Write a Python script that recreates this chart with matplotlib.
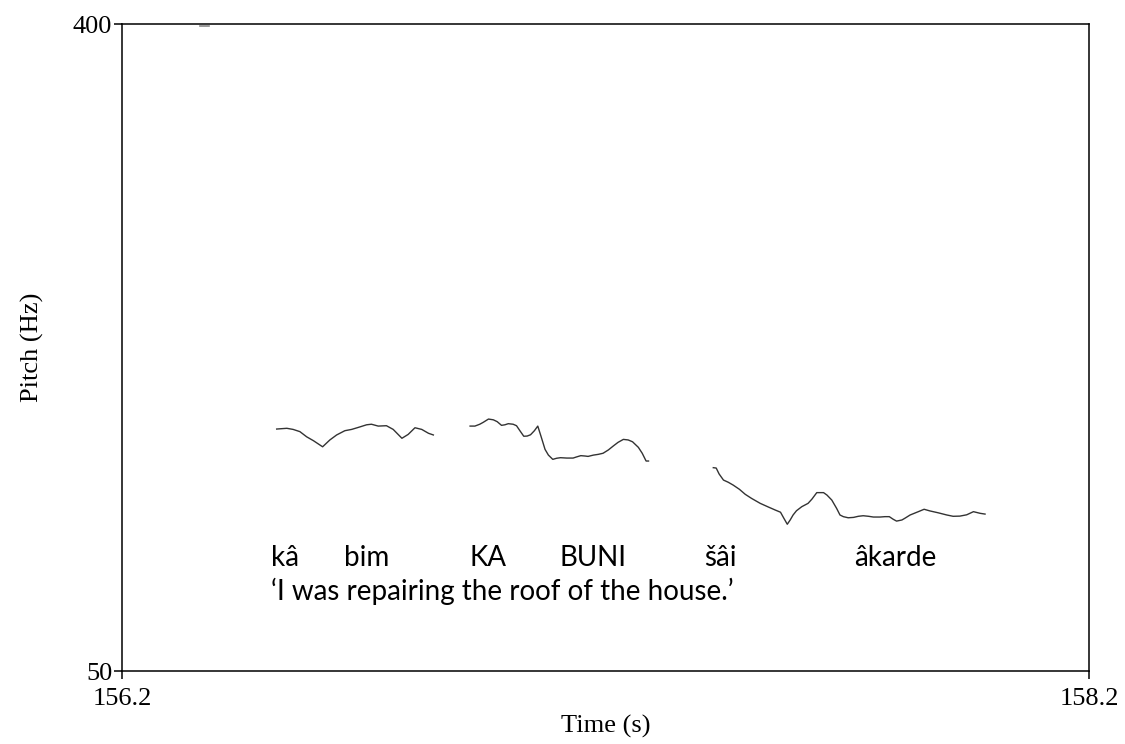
import matplotlib.pyplot as plt

# pitch track, three voiced stretches (time in s, f0 in Hz)
t1 = [156.520, 156.541, 156.554, 156.568, 156.582, 156.596, 156.615, 156.630,
      156.644, 156.661, 156.675, 156.689, 156.706, 156.716, 156.730, 156.747,
      156.761, 156.779, 156.792, 156.806, 156.820, 156.834, 156.844]
f1 = [180.9, 181.3, 180.7, 179.5, 176.7, 174.6, 171.3, 175.0,
      177.7, 180.0, 180.7, 181.8, 183.2, 183.5, 182.5, 182.7,
      180.7, 175.9, 178.0, 181.6, 180.7, 178.6, 177.7]

t2 = [156.920, 156.930, 156.940, 156.947, 156.958, 156.968, 156.976, 156.985,
      156.992, 156.999, 157.009, 157.016, 157.023, 157.031, 157.038, 157.045,
      157.053, 157.060, 157.067, 157.075, 157.082, 157.091, 157.099, 157.107,
      157.120, 157.133, 157.140, 157.149, 157.158, 157.164, 157.175, 157.185,
      157.195, 157.206, 157.216, 157.226, 157.237, 157.247, 157.256, 157.268,
      157.276, 157.284, 157.289]
f2 = [182.5, 182.5, 183.5, 184.5, 186.3, 185.9, 184.9, 182.9,
      183.2, 183.8, 183.5, 182.7, 180.0, 177.0, 177.1, 177.8,
      180.0, 182.5, 176.7, 169.9, 166.8, 164.5, 165.1, 165.4,
      165.2, 165.2, 165.8, 166.5, 166.3, 166.1, 166.8, 167.2,
      167.8, 169.6, 171.7, 173.7, 175.3, 175.0, 174.0, 171.0,
      167.8, 163.6, 163.6]

t3 = [157.423, 157.429, 157.435, 157.444, 157.454, 157.464, 157.477, 157.489,
      157.502, 157.520, 157.537, 157.551, 157.562, 157.569, 157.576, 157.582,
      157.588, 157.595, 157.606, 157.619, 157.627, 157.637, 157.651, 157.658,
      157.668, 157.678, 157.685, 157.692, 157.702, 157.713, 157.723, 157.733,
      157.744, 157.754, 157.768, 157.778, 157.787, 157.795, 157.802, 157.813,
      157.819, 157.830, 157.847, 157.859, 157.871, 157.888, 157.906, 157.919,
      157.933, 157.947, 157.961, 157.975, 157.985]
f3 = [160.0, 159.8, 156.6, 153.3, 152.1, 150.6, 148.3, 145.6,
      143.4, 140.7, 138.7, 137.1, 135.9, 132.6, 129.4, 131.7,
      134.4, 136.7, 138.9, 140.7, 143.0, 146.5, 146.5, 145.2,
      142.5, 138.0, 134.4, 133.5, 132.9, 133.1, 133.7, 134.0,
      133.7, 133.3, 133.3, 133.5, 133.5, 132.1, 131.1, 131.7,
      132.6, 134.4, 136.2, 137.5, 136.6, 135.6, 134.4, 133.7,
      133.8, 134.5, 136.2, 135.3, 134.9]

# stray octave-jump sample at the ceiling
t_stray = [156.362, 156.381]
f_stray = [399.0, 399.0]

words = ["kâ", "bim", "KA", "BUNI", "šâi", "âkarde"]
word_t = [156.508, 156.659, 156.918, 157.104, 157.404, 157.714]
gloss = "\u2018I was repairing the roof of the house.\u2019"

x_range = (156.2, 158.2)
y_range = (50, 400)

fig = plt.figure(figsize=(11.25, 7.44), dpi=100)
ax = fig.add_axes([0.1084, 0.0981, 0.8596, 0.8696])

line_kw = dict(color="#333333", linewidth=1.0)
for t, f in [(t1, f1), (t2, f2), (t3, f3)]:
    ax.plot(t, f, **line_kw)
ax.plot(t_stray, f_stray, color="#888888", linewidth=1.2)

ax.set_xlim(*x_range)
ax.set_ylim(*y_range)
ax.set_xticks(list(x_range))
ax.set_xticklabels([f"{v:.1f}" for v in x_range])
ax.set_yticks(list(y_range))
ax.set_yticklabels([str(v) for v in y_range])

serif = ["Liberation Serif", "DejaVu Serif"]
ax.tick_params(direction="out", length=6, width=1.1, labelsize=19)
ax.tick_params(axis="x", pad=6)
ax.tick_params(axis="y", pad=1)
for lab in ax.get_xticklabels() + ax.get_yticklabels():
    lab.set_family(serif)
for s in ax.spines.values():
    s.set_linewidth(1.1)

ax.set_xlabel("Time (s)", family=serif, fontsize=19, labelpad=4)
ax.set_ylabel("Pitch (Hz)", family=serif, fontsize=19, labelpad=21)

sans = ["Lato", "DejaVu Sans"]
for w, t in zip(words, word_t):
    ax.text(t, 111, w, family=sans, fontsize=20, ha="left", va="center")
ax.text(word_t[0], 93, gloss, family=sans, fontsize=20, ha="left", va="center")

fig.savefig("out.png", dpi=100)
